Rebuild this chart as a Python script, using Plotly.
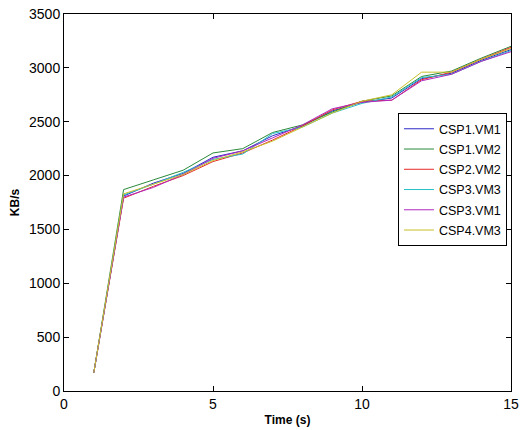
import plotly.graph_objects as go

time_s = [1, 2, 3, 4, 5, 6, 7, 8, 9, 10, 11, 12, 13, 14, 15]
series_names = ["CSP1.VM1", "CSP1.VM2", "CSP2.VM2", "CSP3.VM3", "CSP3.VM1", "CSP4.VM3"]
csp1_vm1 = [170, 1810, 1930, 2020, 2170, 2230, 2370, 2460, 2600, 2680, 2720, 2900, 2950, 3070, 3170]
csp1_vm2 = [170, 1870, 1960, 2050, 2210, 2250, 2400, 2470, 2590, 2690, 2740, 2920, 2970, 3090, 3200]
csp2_vm2 = [170, 1790, 1900, 2000, 2130, 2210, 2330, 2460, 2610, 2690, 2700, 2890, 2960, 3080, 3190]
csp3_vm3 = [170, 1820, 1920, 2030, 2150, 2200, 2390, 2450, 2580, 2670, 2730, 2910, 2940, 3060, 3160]
csp3_vm1 = [170, 1800, 1890, 2010, 2160, 2230, 2350, 2470, 2620, 2680, 2700, 2880, 2940, 3060, 3150]
csp4_vm3 = [170, 1830, 1920, 2010, 2140, 2220, 2320, 2450, 2580, 2690, 2750, 2960, 2960, 3080, 3180]
all_series = [csp1_vm1, csp1_vm2, csp2_vm2, csp3_vm3, csp3_vm1, csp4_vm3]
colors = ["#2a2ac8", "#2a8a3a", "#e82828", "#28c0c8", "#b028c0", "#c8c028"]

fig = go.Figure()
for i, (name, vals, col) in enumerate(zip(series_names, all_series, colors)):
    fig.add_trace(go.Scatter(
        x=time_s, y=vals, mode="lines", name=name,
        line=dict(color=col, width=1), legendgroup=f"g{i}",
    ))

font_main = "Arial, Liberation Sans, sans-serif"
fig.update_layout(
    width=520, height=430,
    margin=dict(l=64, r=9, t=14, b=39),
    paper_bgcolor="white", plot_bgcolor="white",
    font=dict(family=font_main, color="black"),
    showlegend=True,
    legend=dict(
        x=0.991, xanchor="right", y=0.737, yanchor="top",
        bordercolor="black", borderwidth=1, bgcolor="white",
        font=dict(size=12.5, color="black"), tracegroupgap=1,
    ),
)
fig.update_xaxes(
    range=[0, 15], dtick=5, tick0=0, showgrid=False, zeroline=False,
    showline=True, linecolor="black", linewidth=1, mirror="ticks",
    ticks="inside", ticklen=5, tickcolor="black", automargin=False,
    tickfont=dict(size=14, color="black"), ticklabeloverflow="allow",
    title=dict(text="<b>Time (s)</b>", font=dict(size=12), standoff=4),
)
fig.update_yaxes(
    range=[0, 3500], dtick=500, tick0=0, showgrid=False, zeroline=False,
    showline=True, linecolor="black", linewidth=1, mirror="ticks",
    ticks="inside", ticklen=5, tickcolor="black", automargin=False,
    tickfont=dict(size=14, color="black"), ticklabeloverflow="allow",
    title=dict(text="<b>KB/s</b>", font=dict(size=12), standoff=6),
)
fig.write_html("out.html")
